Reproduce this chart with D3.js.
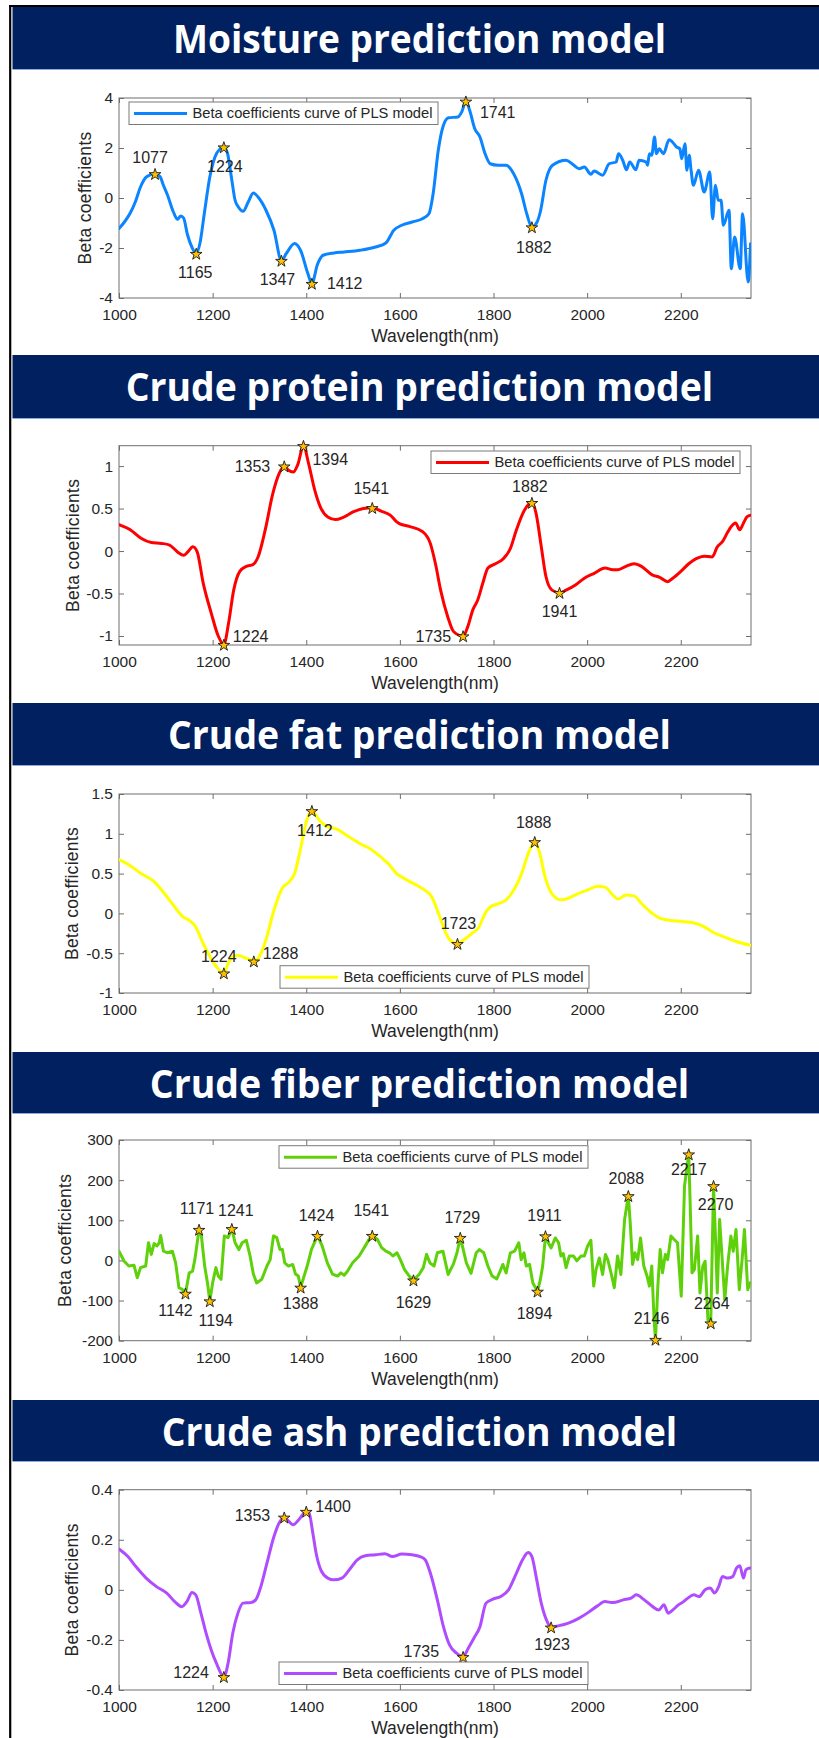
<!DOCTYPE html>
<html><head><meta charset="utf-8">
<script src="https://cdn.jsdelivr.net/npm/d3@7"></script>
<style>
body{margin:0;background:#fff;}
svg{display:block;}
</style></head>
<body><svg id="chart" width="819" height="1738"></svg>
<script>
// ---------------- DATA ----------------
const xTicks = [1000, 1200, 1400, 1600, 1800, 2000, 2200];
const legendText = "Beta coefficients curve of PLS model";
const xLabel = "Wavelength(nm)";
const yLabel = "Beta coefficients";
const titles = ["Moisture prediction model", "Crude protein prediction model", "Crude fat prediction model", "Crude fiber prediction model", "Crude ash prediction model"];

const moistureWl = [1000,1012,1024,1035,1045,1059,1077,1088,1094,1104,1116,1125,1132,1138,1146,1156,1165,1173,1182,1194,1205,1216,1224,1232,1240,1248,1255,1265,1276,1287,1297,1314,1331,1347,1358,1375,1388,1403,1412,1424,1436,1459,1481,1515,1548,1570,1587,1604,1626,1648,1662,1671,1682,1693,1704,1724,1732,1741,1749,1760,1771,1782,1793,1810,1827,1843,1860,1871,1882,1893,1900,1912,1926,1955,1969,1983,1994,2008,2015,2033,2047,2062,2067,2076,2084,2091,2104,2111,2126,2129,2133,2138,2144,2148,2154,2163,2175,2182,2191,2198,2202,2209,2213,2218,2222,2227,2238,2250,2262,2268,2274,2280,2286,2291,2303,2308,2315,2327,2332,2344,2349];
const moistureBeta = [-1.22,-0.95,-0.6,-0.15,0.4,0.85,0.97,0.85,0.55,0.1,-0.55,-0.85,-0.72,-0.8,-1.45,-1.98,-2.22,-1.8,-0.65,0.84,1.64,1.97,2.04,1.77,0.84,-0.09,-0.36,-0.53,-0.16,0.2,0.04,-0.49,-1.29,-2.5,-2.2,-1.82,-2.1,-3.0,-3.42,-2.65,-2.29,-2.2,-2.16,-2.09,-1.96,-1.8,-1.29,-1.09,-0.96,-0.83,-0.63,0.17,1.91,2.91,3.21,3.24,3.44,3.87,3.51,2.77,2.44,1.77,1.37,1.31,1.31,0.97,0.17,-0.63,-1.16,-0.96,-0.55,0.71,1.31,1.51,1.35,1.17,1.24,0.95,1.08,0.91,1.37,1.44,1.77,1.51,1.13,1.44,1.13,1.51,1.44,1.31,1.77,1.71,2.44,1.77,1.97,1.77,2.33,2.24,2.04,1.97,1.57,2.17,1.11,1.71,1.11,0.51,1.11,0.24,1.04,-0.83,0.51,-0.09,-0.09,-1.09,-0.49,-2.83,-1.56,-2.83,-0.63,-3.36,-1.83];
const moisturePeaks = [1077, 1165, 1224, 1347, 1412, 1741, 1882];
const moistureYTicks = [-4, -2, 0, 2, 4];

const proteinWl = [1000,1024,1047,1069,1091,1108,1125,1138,1147,1158,1167,1180,1197,1212,1224,1234,1245,1258,1272,1286,1297,1314,1327,1342,1353,1362,1372,1382,1394,1405,1418,1430,1446,1462,1480,1500,1522,1541,1560,1580,1592,1600,1620,1648,1665,1676,1687,1702,1715,1735,1745,1756,1766,1777,1788,1804,1821,1836,1849,1866,1882,1891,1901,1912,1925,1941,1955,1975,1994,2016,2038,2055,2066,2083,2100,2116,2139,2155,2172,2183,2200,2217,2233,2250,2267,2278,2289,2300,2308,2317,2326,2334,2341,2348];
const proteinBeta = [0.31,0.25,0.15,0.1,0.09,0.07,-0.01,-0.05,-0.01,0.05,-0.01,-0.38,-0.73,-1.0,-1.1,-0.85,-0.46,-0.24,-0.18,-0.16,-0.07,0.29,0.64,0.91,1.0,0.95,0.93,1.02,1.24,1.03,0.72,0.52,0.4,0.37,0.4,0.46,0.5,0.51,0.47,0.42,0.35,0.32,0.29,0.23,0.09,-0.15,-0.46,-0.77,-0.95,-1.0,-0.89,-0.69,-0.58,-0.38,-0.2,-0.15,-0.09,0.03,0.25,0.48,0.57,0.44,0.09,-0.3,-0.46,-0.49,-0.46,-0.4,-0.32,-0.26,-0.2,-0.22,-0.22,-0.18,-0.15,-0.18,-0.28,-0.31,-0.36,-0.32,-0.24,-0.15,-0.09,-0.06,-0.07,0.05,0.11,0.22,0.29,0.33,0.25,0.33,0.4,0.42];
const proteinPeaks = [1224, 1353, 1394, 1541, 1735, 1882, 1941];
const proteinYTicks = [-1, -0.5, 0, 0.5, 1];

const fatWl = [1000,1024,1047,1075,1097,1119,1136,1153,1164,1176,1192,1208,1224,1234,1244,1256,1270,1280,1288,1300,1314,1331,1348,1364,1375,1387,1401,1412,1428,1442,1465,1492,1515,1537,1559,1576,1593,1609,1637,1654,1668,1680,1693,1706,1723,1737,1754,1769,1782,1793,1810,1827,1843,1860,1874,1888,1899,1910,1927,1944,1960,1977,1999,2022,2038,2055,2066,2083,2100,2116,2139,2155,2178,2200,2228,2244,2267,2295,2317,2348];
const fatBeta = [0.675,0.6,0.5,0.4,0.25,0.08,-0.04,-0.1,-0.17,-0.33,-0.52,-0.67,-0.75,-0.62,-0.54,-0.53,-0.56,-0.58,-0.6,-0.54,-0.33,0.04,0.31,0.4,0.5,0.79,1.17,1.29,1.17,1.1,1.06,0.96,0.875,0.81,0.71,0.62,0.5,0.44,0.35,0.29,0.21,0.04,-0.17,-0.33,-0.38,-0.33,-0.25,-0.17,0.0,0.08,0.12,0.17,0.29,0.5,0.75,0.9,0.75,0.46,0.23,0.17,0.19,0.24,0.29,0.34,0.33,0.23,0.18,0.23,0.22,0.125,0.0,-0.06,-0.09,-0.1,-0.12,-0.15,-0.23,-0.3,-0.35,-0.4];
const fatPeaks = [1224, 1288, 1412, 1723, 1888];
const fatYTicks = [-1, -0.5, 0, 0.5, 1, 1.5];

const fiberWl = [1000,1011,1021,1032,1039,1046,1057,1063,1069,1075,1081,1086,1089,1095,1104,1114,1121,1128,1135,1142,1150,1157,1162,1171,1176,1183,1189,1194,1200,1207,1212,1218,1225,1233,1241,1248,1256,1263,1272,1280,1287,1294,1305,1316,1323,1330,1337,1344,1349,1354,1362,1371,1377,1383,1388,1402,1411,1424,1434,1445,1456,1467,1474,1481,1488,1499,1513,1528,1534,1541,1552,1561,1570,1578,1585,1594,1601,1610,1620,1629,1641,1650,1657,1664,1673,1680,1692,1703,1714,1722,1729,1735,1742,1752,1763,1770,1779,1788,1797,1807,1814,1820,1827,1836,1845,1854,1859,1865,1870,1877,1884,1894,1900,1905,1911,1917,1923,1932,1939,1944,1949,1955,1962,1971,1978,1987,1994,2001,2008,2014,2019,2026,2033,2039,2044,2051,2058,2065,2072,2080,2088,2092,2097,2102,2108,2114,2121,2128,2133,2138,2143,2146,2151,2156,2161,2167,2172,2179,2186,2193,2201,2208,2217,2220,2224,2229,2236,2241,2247,2252,2258,2264,2270,2274,2278,2283,2288,2294,2300,2307,2312,2318,2325,2331,2336,2343,2348];
const fiberBeta = [23,-2,-14,-12,-43,-18,-14,44,15,42,36,44,62,23,19,23,-6,-68,-72,-82,-31,-27,2,77,61,-14,-56,-101,-56,-18,-39,-47,61,57,79,44,27,44,50,11,-34,-56,-47,-14,2,61,57,27,27,-6,-14,-10,-34,-39,-67,-14,27,62,36,-6,-34,-39,-31,-37,-27,-6,11,40,52,62,52,32,23,19,11,19,2,-23,-39,-49,-35,-18,15,-6,-14,19,23,-35,-10,19,57,29,-6,-32,19,27,19,-14,-39,-46,-27,-10,-31,19,23,44,2,19,-14,-10,-56,-77,-48,-14,61,44,31,56,44,11,17,-18,11,11,-1,11,11,36,50,-64,-23,6,-35,15,2,-31,-68,11,-35,102,161,94,-10,19,2,56,-14,-39,-64,-14,-148,-197,-64,27,-31,15,2,61,52,44,-89,186,265,144,-31,-23,61,-81,-14,-2,-148,-156,186,61,-81,102,11,-98,-14,61,23,77,-73,2,77,-73,-56];
const fiberPeaks = [1142, 1171, 1194, 1241, 1388, 1424, 1541, 1629, 1729, 1894, 1911, 2088, 2146, 2217, 2264, 2270];
const fiberYTicks = [-200, -100, 0, 100, 200, 300];

const ashWl = [1000,1019,1036,1058,1080,1102,1119,1134,1145,1156,1164,1175,1186,1197,1208,1224,1233,1243,1254,1265,1281,1292,1303,1316,1331,1342,1353,1363,1372,1384,1400,1406,1414,1421,1431,1446,1459,1476,1492,1509,1526,1548,1568,1584,1604,1626,1643,1654,1665,1680,1693,1706,1721,1735,1746,1758,1771,1784,1799,1815,1832,1849,1862,1874,1882,1891,1902,1913,1923,1938,1960,1983,2005,2022,2038,2055,2077,2094,2105,2122,2140,2153,2164,2173,2183,2195,2206,2215,2228,2239,2252,2263,2272,2281,2289,2300,2311,2319,2326,2334,2339,2348];
const ashBeta = [0.163,0.133,0.093,0.047,0.013,-0.013,-0.047,-0.067,-0.047,-0.011,-0.02,-0.093,-0.173,-0.24,-0.293,-0.347,-0.293,-0.173,-0.093,-0.053,-0.051,-0.04,0.013,0.107,0.213,0.267,0.29,0.273,0.26,0.28,0.313,0.307,0.227,0.147,0.08,0.047,0.04,0.047,0.08,0.12,0.136,0.14,0.144,0.133,0.143,0.14,0.133,0.12,0.067,-0.04,-0.147,-0.22,-0.253,-0.267,-0.233,-0.193,-0.147,-0.053,-0.037,-0.027,0.0,0.067,0.12,0.149,0.133,0.053,-0.053,-0.12,-0.149,-0.144,-0.133,-0.113,-0.087,-0.064,-0.047,-0.051,-0.04,-0.033,-0.02,-0.04,-0.067,-0.08,-0.06,-0.093,-0.08,-0.06,-0.047,-0.033,-0.02,-0.027,0.0,0.007,-0.013,0.013,0.053,0.047,0.053,0.087,0.096,0.047,0.08,0.087];
const ashPeaks = [1224, 1353, 1400, 1735, 1923];
const ashYTicks = [-0.4, -0.2, 0, 0.2, 0.4];

// ---------------- LAYOUT / STYLE ----------------
const panels = [
  {wl: moistureWl, beta: moistureBeta, peaks: moisturePeaks, yTicks: moistureYTicks, yDomain: [-4, 4], color: "#0A84FF", curve: d3.curveMonotoneX,
   hTop: 7, hBot: 69, pTop: 98, pBot: 298, titleW: 493, yLabX: 84.5, legend: {x: 129, y: 102},
   labels: [[-5,-10.5,"middle"],[-1,24.4,"middle"],[1,24.7,"middle"],[-4,24,"middle"],[15,5.7,"start"],[14,16.4,"start"],[2,26.4,"middle"]]},
  {wl: proteinWl, beta: proteinBeta, peaks: proteinPeaks, yTicks: proteinYTicks, yDomain: [-1.106, 1.24], color: "#FF0000", curve: d3.curveMonotoneX,
   hTop: 355, hBot: 418, pTop: 445.7, pBot: 645, titleW: 587.5, yLabX: 73, legend: {x: 431, y: 451},
   labels: [[9,-2,"start"],[-14,6.4,"end"],[9,19.7,"start"],[-1,-13.3,"middle"],[-12,5.7,"end"],[-2,-10.3,"middle"],[0,24.7,"middle"]]},
  {wl: fatWl, beta: fatBeta, peaks: fatPeaks, yTicks: fatYTicks, yDomain: [-1, 1.5], color: "#FFFF00", curve: d3.curveMonotoneX,
   hTop: 703, hBot: 765, pTop: 794, pBot: 993, titleW: 503, yLabX: 72, legend: {x: 280, y: 965.7},
   labels: [[-5,-11.6,"middle"],[9,-2,"start"],[3,25.7,"middle"],[1,-14.3,"middle"],[-1,-13.3,"middle"]]},
  {wl: fiberWl, beta: fiberBeta, peaks: fiberPeaks, yTicks: fiberYTicks, yDomain: [-200, 300], color: "#5FD10A", curve: d3.curveLinear,
   hTop: 1052, hBot: 1113, pTop: 1140, pBot: 1340.7, titleW: 539.5, yLabX: 65, legend: {x: 279, y: 1145.7},
   labels: [[-10,22.4,"middle"],[-2,-16,"middle"],[6,24.7,"middle"],[4,-13,"middle"],[0,22,"middle"],[-1,-14.3,"middle"],[-1,-19.6,"middle"],[0,28.3,"middle"],[2,-14.6,"middle"],[-3,28,"middle"],[-1,-15.3,"middle"],[-2,-11.7,"middle"],[-4,-15,"middle"],[0,20.7,"middle"],[1,-14.3,"middle"],[2,24,"middle"]]},
  {wl: ashWl, beta: ashBeta, peaks: ashPeaks, yTicks: ashYTicks, yDomain: [-0.4, 0.4], color: "#B04CFF", curve: d3.curveMonotoneX,
   hTop: 1400, hBot: 1461, pTop: 1489.7, pBot: 1690, titleW: 515.4, yLabX: 71.5, legend: {x: 279, y: 1662},
   labels: [[-15,1.7,"end"],[-14,3.4,"end"],[9,0.7,"start"],[-24,0.7,"end"],[1,22.4,"middle"]]}
];

const PL = 119, PR = 751;
const font = "'Liberation Sans', Arial, Helvetica, sans-serif";
const textCol = "#262626";
const axisCol = "#6e6e6e";

const svg = d3.select("#chart");
svg.append("rect").attr("width", 819).attr("height", 1738).attr("fill", "#fff");

// outer frame
svg.append("line").attr("x1", 10.2).attr("x2", 10.2).attr("y1", 5).attr("y2", 1738).attr("stroke", "#000").attr("stroke-width", 2.2);
svg.append("line").attr("x1", 9).attr("x2", 819).attr("y1", 6).attr("y2", 6).attr("stroke", "#000").attr("stroke-width", 2);

const x = d3.scaleLinear().domain([1000, 2350]).range([PL, PR]);

panels.forEach((p, i) => {
  // header
  svg.append("rect").attr("x", 12.5).attr("y", p.hTop).attr("width", 819 - 12.5).attr("height", p.hBot - p.hTop).attr("fill", "#002060");
  svg.append("line").attr("x1", 12.5).attr("x2", 819).attr("y1", p.hBot + 0.5).attr("y2", p.hBot + 0.5).attr("stroke", "#8FAADC").attr("stroke-width", 1);
  svg.append("text").attr("x", 419.5).attr("y", p.hTop + 46).attr("text-anchor", "middle")
    .attr("font-family", "'Open Sans', 'Noto Sans', sans-serif").attr("font-weight", 700).attr("font-size", 39)
    .attr("fill", "#fff").attr("textLength", p.titleW).attr("lengthAdjust", "spacingAndGlyphs").text(titles[i]);

  const y = d3.scaleLinear().domain(p.yDomain).range([p.pBot, p.pTop]);
  const g = svg.append("g");

  // clip
  const cid = "clip" + i;
  svg.append("clipPath").attr("id", cid).append("rect").attr("x", PL).attr("y", p.pTop - 1).attr("width", PR - PL).attr("height", p.pBot - p.pTop + 2);

  // axes
  const ax = g.append("g").attr("transform", `translate(0,${p.pBot})`).call(d3.axisBottom(x).tickValues(xTicks).tickSize(-5).tickSizeOuter(0).tickPadding(11).tickFormat(d3.format("d")));
  const at = g.append("g").attr("transform", `translate(0,${p.pTop})`).call(d3.axisTop(x).tickValues(xTicks).tickSize(-5).tickSizeOuter(0).tickFormat(""));
  const ay = g.append("g").attr("transform", `translate(${PL},0)`).call(d3.axisLeft(y).tickValues(p.yTicks).tickSize(-5).tickSizeOuter(0).tickPadding(6).tickFormat(d => String(d)));
  const ar = g.append("g").attr("transform", `translate(${PR},0)`).call(d3.axisRight(y).tickValues(p.yTicks).tickSize(-5).tickSizeOuter(0).tickFormat(""));
  [ax, at, ay, ar].forEach(a => {
    a.select(".domain").remove();
    a.selectAll(".tick line").attr("stroke", axisCol).attr("stroke-width", 1);
    a.selectAll("text").attr("font-family", font).attr("font-size", 15.5).attr("fill", textCol);
  });
  g.append("rect").attr("x", PL).attr("y", p.pTop).attr("width", PR - PL).attr("height", p.pBot - p.pTop)
    .attr("fill", "none").attr("stroke", axisCol).attr("stroke-width", 1);

  // axis labels
  g.append("text").attr("x", (PL + PR) / 2).attr("y", p.pBot + 44).attr("text-anchor", "middle")
    .attr("font-family", font).attr("font-size", 17.5).attr("fill", textCol).text(xLabel);
  g.append("text").attr("transform", `translate(${p.yLabX + 6},${(p.pTop + p.pBot) / 2}) rotate(-90)`).attr("text-anchor", "middle")
    .attr("font-family", font).attr("font-size", 17.5).attr("fill", textCol).attr("letter-spacing", 0.3).text(yLabel);

  // curve
  const pts = p.wl.map((w, k) => [w, p.beta[k]]);
  const line = d3.line().x(d => x(d[0])).y(d => y(d[1])).curve(p.curve);
  g.append("path").attr("d", line(pts)).attr("fill", "none").attr("stroke", p.color).attr("stroke-width", 3)
    .attr("stroke-linejoin", "round").attr("stroke-linecap", "round").attr("clip-path", `url(#${cid})`);

  // stars
  const star = d3.symbol().type(d3.symbolStar).size(42);
  p.peaks.forEach((w, k) => {
    const v = p.beta[p.wl.indexOf(w)];
    const sx = x(w), sy = y(v);
    g.append("path").attr("d", star()).attr("transform", `translate(${sx},${sy + 0.8})`)
      .attr("fill", "#FFC000").attr("stroke", "#1a1a1a").attr("stroke-width", 0.9);
    const L = p.labels[k];
    g.append("text").attr("x", sx + L[0]).attr("y", sy + L[1]).attr("text-anchor", L[2])
      .attr("font-family", font).attr("font-size", 16).attr("fill", textCol).text(String(w));
  });

  // legend
  const lg = g.append("g").attr("transform", `translate(${p.legend.x},${p.legend.y})`);
  lg.append("rect").attr("width", 309).attr("height", 22.5).attr("fill", "#fff").attr("stroke", "#7a7a7a").attr("stroke-width", 1);
  lg.append("line").attr("x1", 5).attr("x2", 58).attr("y1", 11.5).attr("y2", 11.5).attr("stroke", p.color).attr("stroke-width", 3);
  lg.append("text").attr("x", 63.5).attr("y", 16.3).attr("font-family", font).attr("font-size", 14.5).attr("fill", textCol)
    .attr("textLength", 240).attr("lengthAdjust", "spacingAndGlyphs").text(legendText);
});
</script>
</body></html>
